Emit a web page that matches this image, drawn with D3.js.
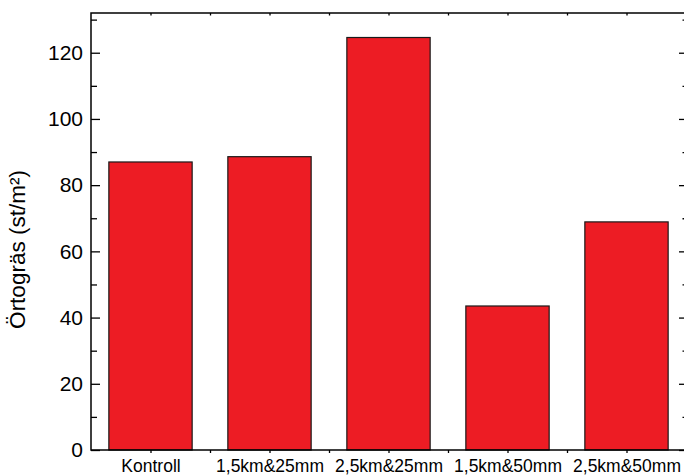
<!DOCTYPE html>
<html><head><meta charset="utf-8">
<script src="https://cdn.jsdelivr.net/npm/d3@7"></script>
<style>
html,body{margin:0;padding:0;background:#fff;}
svg{display:block;font-family:"Liberation Sans",Arial,sans-serif;}
</style></head>
<body>
<svg id="c" width="684" height="475"></svg>
<script>
const categories = ["Kontroll","1,5km&25mm","2,5km&25mm","1,5km&50mm","2,5km&50mm"];
const values = [87.0, 88.6, 124.6, 43.5, 68.9];
const yMajorTicks = [0,20,40,60,80,100,120];
const yMinorTicks = [10,30,50,70,90,110,130];
const yTitle = "Örtogräs (st/m²)";

const svg = d3.select("#c");
const L = 91, R = 686, T = 13, B = 450;
const x = d3.scaleLinear().domain([0.5, 5.5]).range([L, R]);
const y = d3.scaleLinear().domain([0, 132]).range([B, T]);
const pos = categories.map((c,i)=>i+1);
const halfPos = d3.range(1.5, 5.0, 1);
const barW = 0.7;

// bars
svg.append("g").selectAll("rect").data(values).join("rect")
  .attr("x", (d,i)=>x(pos[i]-barW/2))
  .attr("width", (d,i)=>x(pos[i]+barW/2)-x(pos[i]-barW/2))
  .attr("y", d=>y(d))
  .attr("height", d=>y(0)-y(d))
  .attr("fill", "#ED1C24")
  .attr("stroke", "#1a1a1a")
  .attr("stroke-width", 1.2);

function style(g){
  g.select(".domain").remove();
  g.selectAll("line").attr("stroke","#000").attr("stroke-width",1.3);
  g.selectAll("text").attr("fill","#000");
}

// bottom axis
svg.append("g").attr("transform",`translate(0,${B})`)
  .call(d3.axisBottom(x).tickValues(pos).tickFormat((d,i)=>categories[i]).tickSize(3).tickPadding(6.5))
  .call(style)
  .selectAll("text").attr("font-size","17.5px").attr("font-family","Liberation Sans, Arial, sans-serif");
svg.append("g").attr("transform",`translate(0,${B})`)
  .call(d3.axisBottom(x).tickValues(halfPos).tickFormat("").tickSize(3)).call(style);

// top axis
svg.append("g").attr("transform",`translate(0,${T})`)
  .call(d3.axisTop(x).tickValues(pos.concat(halfPos)).tickFormat("").tickSize(-2.5)).call(style);

// left axis
svg.append("g").attr("transform",`translate(${L},0)`)
  .call(d3.axisLeft(y).tickValues(yMajorTicks).tickSize(-9).tickPadding(8))
  .call(style)
  .selectAll("text").attr("font-size","21px").attr("font-family","Liberation Sans, Arial, sans-serif");
svg.append("g").attr("transform",`translate(${L},0)`)
  .call(d3.axisLeft(y).tickValues(yMinorTicks).tickSize(-6).tickFormat("")).call(style);

// right axis
svg.append("g").attr("transform",`translate(${R},0)`)
  .call(d3.axisRight(y).tickValues(yMajorTicks).tickSize(-7).tickFormat("")).call(style);
svg.append("g").attr("transform",`translate(${R},0)`)
  .call(d3.axisRight(y).tickValues(yMinorTicks).tickSize(-3.5).tickFormat("")).call(style);

// frame
svg.append("rect").attr("x",L).attr("y",T).attr("width",R-L).attr("height",B-T)
  .attr("fill","none").attr("stroke","#000").attr("stroke-width",1.5);

// y title
svg.append("text")
  .attr("transform",`translate(25,${(T+B)/2 + 18}) rotate(-90)`)
  .attr("text-anchor","middle")
  .attr("font-size","22.5px")
  .attr("fill","#000")
  .text(yTitle);
</script>
</body></html>
